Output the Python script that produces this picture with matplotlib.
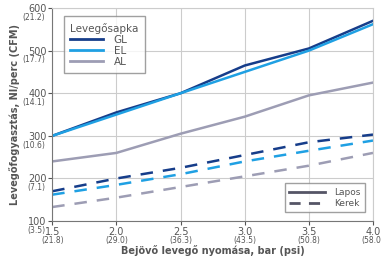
import numpy as np
import matplotlib.pyplot as plt
from matplotlib.lines import Line2D

pressure_bar = [1.5, 2.0, 2.5, 3.0, 3.5, 4.0]
pressure_psi = ["(21.8)", "(29.0)", "(36.3)", "(43.5)", "(50.8)", "(58.0)"]
flow_ticks = [100, 200, 300, 400, 500, 600]
flow_cfm = ["(3.5)", "(7.1)", "(10.6)", "(14.1)", "(17.7)", "(21.2)"]

# Lapos (flat) air caps
gl_lapos = [300, 355, 400, 465, 505, 570]
el_lapos = [300, 350, 400, 450, 500, 562]
al_lapos = [240, 260, 305, 345, 395, 425]
# Kerek (round) air caps
gl_kerek = [170, 200, 225, 255, 285, 303]
el_kerek = [162, 185, 210, 240, 265, 289]
al_kerek = [133, 155, 180, 205, 230, 260]

c_gl = "#163d8a"
c_el = "#1fa0e3"
c_al = "#9d9db4"
txt = "#555555"

fig = plt.figure(figsize=(3.81, 2.58), dpi=100)
ax = fig.add_axes([0.137, 0.143, 0.842, 0.826])

ax.plot(pressure_bar, gl_lapos, color=c_gl, lw=1.8)
ax.plot(pressure_bar, el_lapos, color=c_el, lw=1.8)
ax.plot(pressure_bar, al_lapos, color=c_al, lw=1.8)
ax.plot(pressure_bar, gl_kerek, color=c_gl, lw=1.8, dashes=(5, 4))
ax.plot(pressure_bar, el_kerek, color=c_el, lw=1.8, dashes=(5, 4))
ax.plot(pressure_bar, al_kerek, color=c_al, lw=1.8, dashes=(5, 4))

ax.set_xlim(1.5, 4.0)
ax.set_ylim(100, 600)
ax.set_xticks(pressure_bar)
ax.set_yticks(flow_ticks)
ax.set_xticklabels([f"{v:.1f}" for v in pressure_bar])
ax.set_yticklabels([str(v) for v in flow_ticks])
ax.tick_params(labelsize=7, colors=txt, length=3, width=0.8, pad=1)
ax.grid(True, color="#cccccc", lw=0.8)
ax.set_axisbelow(True)
for s in ["top", "right"]:
    ax.spines[s].set_color("#cccccc")
for s in ["left", "bottom"]:
    ax.spines[s].set_color("#777777")

# secondary units under the tick labels
for x, lab in zip(pressure_bar, pressure_psi):
    ax.annotate(lab, (x, 0), xycoords=("data", "axes fraction"), xytext=(0, -10.5),
                textcoords="offset points", ha="center", va="top", fontsize=5.5, color=txt)
for y, lab in zip(flow_ticks, flow_cfm):
    ax.annotate(lab, (0, y), xycoords=("axes fraction", "data"), xytext=(-5, -3.5),
                textcoords="offset points", ha="right", va="top", fontsize=5.5, color=txt)

ax.set_xlabel("Bejövő levegő nyomása, bar (psi)", fontsize=7, fontweight="bold",
              color=txt, labelpad=6)
ax.set_ylabel("Levegőfogyasztás, Nl/perc (CFM)", fontsize=7, fontweight="bold",
              color=txt, labelpad=6)

h1 = [Line2D([], [], color=c, lw=2) for c in (c_gl, c_el, c_al)]
leg1 = ax.legend(h1, ["GL", "EL", "AL"], title="Levegősapka", loc="upper left",
                 bbox_to_anchor=(0.02, 0.985), fontsize=7.5, title_fontsize=7.5,
                 frameon=True, fancybox=False, edgecolor="#888888",
                 handlelength=3.2, labelspacing=0.1, borderpad=0.6, handletextpad=1.0)
leg1._legend_box.align = "left"
leg1.get_title().set_color(txt)
for t in leg1.get_texts():
    t.set_color(txt)
ax.add_artist(leg1)

h2 = [Line2D([], [], color="#555566", lw=2),
      Line2D([], [], color="#555566", lw=2, dashes=(4, 3))]
leg2 = ax.legend(h2, ["Lapos", "Kerek"], loc="lower right", bbox_to_anchor=(0.99, 0.02),
                 fontsize=6.5, frameon=True, fancybox=False, edgecolor="#888888",
                 handlelength=4, labelspacing=0.2, borderpad=0.5, handletextpad=1.0)
for t in leg2.get_texts():
    t.set_color(txt)

fig.savefig("out.png", dpi=100)
